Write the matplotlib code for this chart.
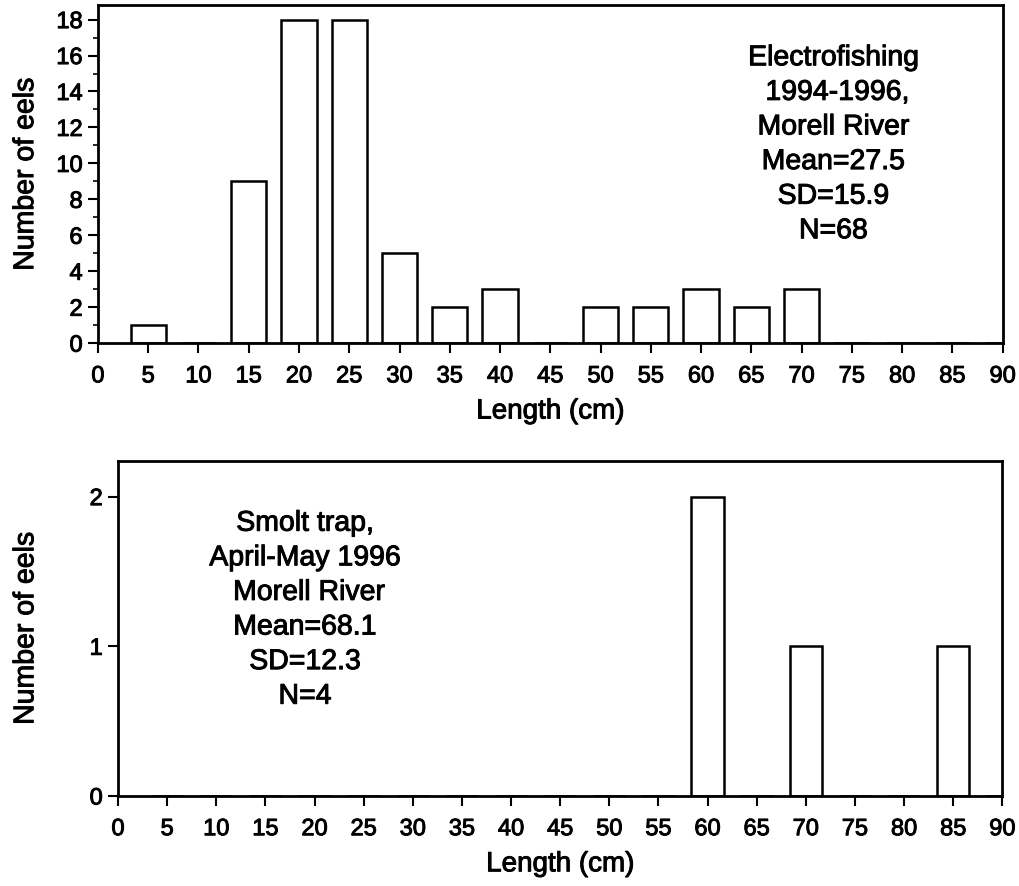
import matplotlib
matplotlib.use('Agg')

import matplotlib.pyplot as plt
import matplotlib.patheffects as pe
import numpy as np

plt.rcParams['font.family'] = ['Liberation Sans', 'DejaVu Sans']

# length classes (cm)
lengths = [5, 10, 15, 20, 25, 30, 35, 40, 45, 50, 55, 60, 65, 70, 75, 80, 85, 90]

# Electrofishing 1994-1996
electro_counts = [1, 0, 9, 18, 18, 5, 2, 3, 0, 2, 2, 3, 2, 3, 0, 0, 0, 0]
# Smolt trap April-May 1996
smolt_counts = [0, 0, 0, 0, 0, 0, 0, 0, 0, 0, 0, 2, 0, 1, 0, 0, 1, 0]

x_ticks = list(range(0, 95, 5))

electro_text = "Electrofishing\n 1994-1996,\nMorell River\nMean=27.5\nSD=15.9\nN=68"
smolt_text = "Smolt trap,\nApril-May 1996\n Morell River\nMean=68.1\nSD=12.3\nN=4"

# scanned print looks a bit heavier than plain regular weight
heavy = [pe.withStroke(linewidth=0.7, foreground='black')]

fig = plt.figure(figsize=(10.2, 8.87), dpi=100)
ax1 = fig.add_axes([0.096, 0.612, 0.887, 0.381])
ax2 = fig.add_axes([0.1157, 0.1015, 0.867, 0.378])


def style_axes(ax):
    for side in ['left', 'right', 'top', 'bottom']:
        ax.spines[side].set_linewidth(2.0)
    ax.tick_params(axis='both', which='major', direction='out', length=7,
                   width=1.5, labelsize=17)
    ax.tick_params(axis='x', which='major', pad=9)
    ax.tick_params(axis='y', which='major', pad=4)
    ax.tick_params(axis='both', which='minor', direction='out', length=3.5,
                   width=1.2)
    ax.set_xlim(0, 90)
    ax.set_xticks(x_ticks)
    ax.set_xlabel('Length (cm)', fontsize=20, labelpad=8, path_effects=heavy)
    for lbl in ax.get_xticklabels() + ax.get_yticklabels():
        lbl.set_path_effects(heavy)


# top panel
ax1.bar(lengths, electro_counts, width=3.5, color='white', edgecolor='black',
        linewidth=1.8, zorder=2)
ax1.set_ylim(0, 18.8)
ax1.set_yticks(np.arange(0, 19, 2))
ax1.set_yticks(np.arange(1, 19, 2), minor=True)
style_axes(ax1)
ax1.set_ylabel('Number of eels', fontsize=20.5, path_effects=heavy)
ax1.yaxis.set_label_coords(-0.065, 0.5)
ax1.text(0.813, 0.587, electro_text, transform=ax1.transAxes, ha='center',
         va='center', fontsize=20.5, linespacing=1.43, multialignment='center',
         path_effects=heavy)

# bottom panel
ax2.bar(lengths, smolt_counts, width=3.3, color='white', edgecolor='black',
        linewidth=1.8, zorder=2)
ax2.set_ylim(0, 2.24)
ax2.set_yticks([0, 1, 2])
style_axes(ax2)
ax2.set_ylabel('Number of eels', fontsize=20.5, path_effects=heavy)
ax2.yaxis.set_label_coords(-0.089, 0.5)
ax2.text(0.2115, 0.554, smolt_text, transform=ax2.transAxes, ha='center',
         va='center', fontsize=20.5, linespacing=1.43, multialignment='center',
         path_effects=heavy)

fig.savefig('out.png', dpi=100)
